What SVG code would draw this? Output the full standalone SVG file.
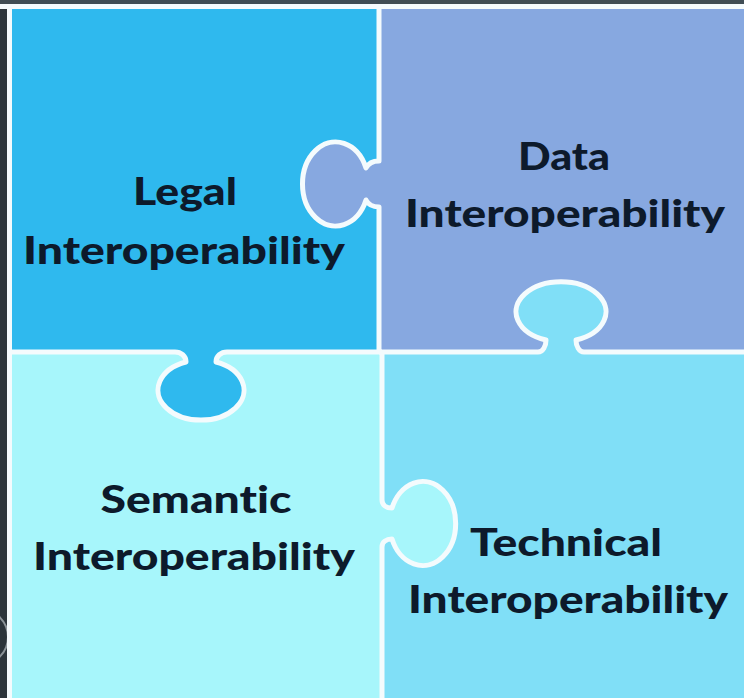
<svg xmlns="http://www.w3.org/2000/svg" width="744" height="698" viewBox="0 0 744 698">
  <style>
    .lbl { font-family: Lato, "Open Sans", "Liberation Sans", sans-serif; font-weight: 900; font-size: 37px; fill: #0d1a2b; text-anchor: middle; font-variant-ligatures: none; }
    .seam { fill: none; stroke: #f4fbfd; stroke-width: 5; stroke-linejoin: round; }
  </style>
  <rect x="0" y="0" width="744" height="698" fill="#2b353b"/>
  <rect x="0" y="0" width="744" height="6" fill="#3f4d54"/>
  <path d="M -19.75,609.25 A 27.75 27.75 0 0 1 -19.75,664.75" fill="none" stroke="#8a9398" stroke-width="2"/>

  <g id="legal">
    <path d="M 10,7 H 379 V 161 C 372,161 368,164 366,168 A 33 42 0 1 0 366,200 C 368,204 372,207 379,207 V 352 H 227 C 221,352 216,356 216,362 A 43 30 0 1 1 186,362 C 186,356 181,352 175,352 H 10 Z" fill="#2fb9ee"/>
    <text class="lbl" x="185" y="205" textLength="104" lengthAdjust="spacingAndGlyphs">Legal</text>
    <text class="lbl" x="184" y="264" textLength="322" lengthAdjust="spacingAndGlyphs">Interoperability</text>
  </g>

  <g id="data">
    <path d="M 379,7 H 744 V 352 H 584 C 579,352 576,346 576,340 A 45 30 0 1 0 546,340 C 546,346 543,352 538,352 H 379 V 207 C 372,207 368,204 366,200 A 33 42 0 1 1 366,168 C 368,164 372,161 379,161 Z" fill="#87a8e0"/>
    <text class="lbl" x="564" y="170" textLength="92" lengthAdjust="spacingAndGlyphs">Data</text>
    <text class="lbl" x="565" y="227" textLength="320" lengthAdjust="spacingAndGlyphs">Interoperability</text>
  </g>

  <g id="semantic">
    <path d="M 10,352 H 175 C 181,352 186,356 186,362 A 43 30 0 1 0 216,362 C 216,356 221,352 227,352 H 382 V 500 C 382,505 386,508 392,508 A 33 42 0 1 1 392,539 C 386,539 382,542 382,547 V 698 H 10 Z" fill="#a7f6fb"/>
    <text class="lbl" x="196" y="513" textLength="191" lengthAdjust="spacingAndGlyphs">Semantic</text>
    <text class="lbl" x="194" y="570" textLength="322" lengthAdjust="spacingAndGlyphs">Interoperability</text>
  </g>

  <g id="technical">
    <path d="M 382,352 H 538 C 543,352 546,346 546,340 A 45 30 0 1 1 576,340 C 576,346 579,352 584,352 H 744 V 698 H 382 V 547 C 382,542 386,539 392,539 A 33 42 0 1 0 392,508 C 386,508 382,505 382,500 Z" fill="#80dff7"/>
    <text class="lbl" x="566" y="556" textLength="192" lengthAdjust="spacingAndGlyphs">Technical</text>
    <text class="lbl" x="568" y="613" textLength="320" lengthAdjust="spacingAndGlyphs">Interoperability</text>
  </g>

  <g id="connectors">
    <path class="seam" d="M 0,6.5 H 744"/>
    <path class="seam" d="M 9.5,6 V 698"/>
    <path class="seam" d="M 379,6 V 161 C 372,161 368,164 366,168 A 33 42 0 1 0 366,200 C 368,204 372,207 379,207 V 352"/>
    <path class="seam" d="M 9,352 H 175 C 181,352 186,356 186,362 A 43 30 0 1 0 216,362 C 216,356 221,352 227,352 H 382"/>
    <path class="seam" d="M 379,352 H 538 C 543,352 546,346 546,340 A 45 30 0 1 1 576,340 C 576,346 579,352 584,352 H 744"/>
    <path class="seam" d="M 382,352 V 500 C 382,505 386,508 392,508 A 33 42 0 1 1 392,539 C 386,539 382,542 382,547 V 698"/>
  </g>
</svg>
